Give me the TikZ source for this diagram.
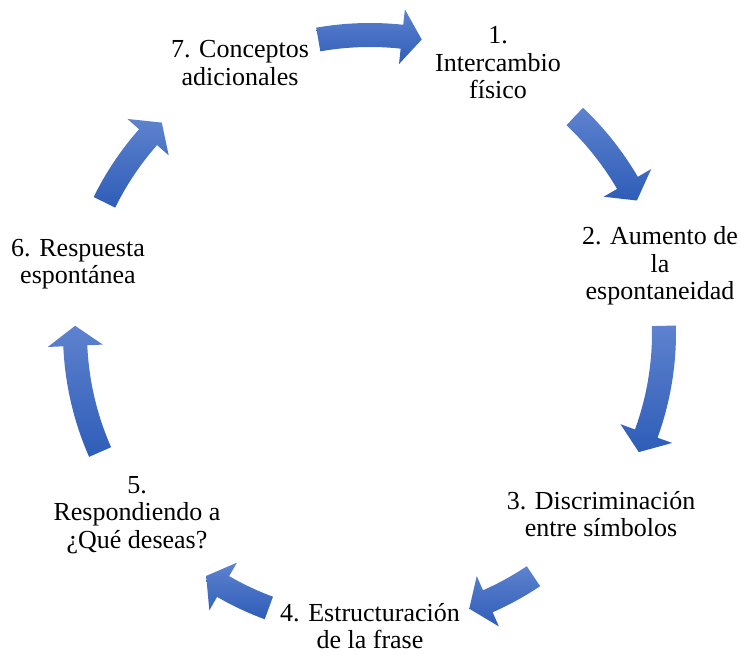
\documentclass[tikz,border=0pt]{standalone}
\usepackage{fontspec}
\setmainfont{Liberation Serif}
\definecolor{arrowtop}{RGB}{94,130,206}
\definecolor{arrowbot}{RGB}{46,93,184}
\newcommand{\cyarrow}[3]{%
 \pgfmathsetmacro\cyRo{#3+12}%
 \pgfmathsetmacro\cyRi{#3-12}%
 \pgfmathsetmacro\cyHo{#3+27.5}%
 \pgfmathsetmacro\cyHi{#3-27.5}%
 \pgfmathsetmacro\cyH{#2+20/#3*180/pi}%
 \shade[cyc]
   (#1:\cyRo) arc[start angle=#1,end angle=\cyH,radius=\cyRo] -- (\cyH:\cyHo) -- (#2:#3) -- (\cyH:\cyHi) -- (\cyH:\cyRi) arc[start angle=\cyH,end angle=#1,radius=\cyRi] -- cycle;}
\begin{document}
\begin{tikzpicture}[x=1pt,y=1pt,
  lbl/.style={align=center,font=\fontsize{26}{27.5}\selectfont,inner sep=0pt},
  cyc/.style={top color=arrowtop,bottom color=arrowbot,shift={(370,322)}}]
\useasboundingbox (0,0) rectangle (741,655);
% arrows
\cyarrow{100}{80}{298}
\cyarrow{46.6}{26.4}{298}
\cyarrow{1.4}{-23.9}{294}
\cyarrow{-56.1}{-70.2}{293}
\cyarrow{-110.2}{-124}{293}
\cyarrow{203.8}{178.6}{295}
\cyarrow{153.8}{134.7}{296}
% labels
\node[lbl] (n1) at (498,592) {1.\\Intercambio\\físico};
\node[lbl] (n2) at (660,389) {2. Aumento de\\la\\espontaneidad};
\node[lbl] (n3) at (601,141) {3. Discriminación\\entre símbolos};
\node[lbl] (n4) at (370,29) {4. Estructuración\\de la frase};
\node[lbl] (n5) at (137,140) {5.\\Respondiendo a\\¿Qué deseas?};
\node[lbl] (n6) at (78,391) {6. Respuesta\\espontánea};
\node[lbl] (n7) at (240,592) {7. Conceptos\\adicionales};
\end{tikzpicture}
\end{document}
